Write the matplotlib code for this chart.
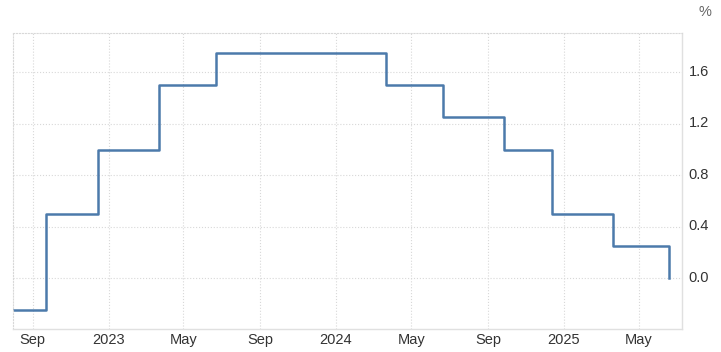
import numpy as np
import pandas as pd
import matplotlib
matplotlib.use("Agg")
import matplotlib.pyplot as plt
from matplotlib.transforms import ScaledTranslation

plt.rcParams["font.family"] = ["Liberation Sans", "DejaVu Sans"]

# policy rate change dates and levels (%)
dates = ["2022-07-31", "2022-09-22", "2022-12-15", "2023-03-23", "2023-06-22",
         "2024-03-21", "2024-06-20", "2024-09-26", "2024-12-12", "2025-03-20",
         "2025-06-19"]
rates = [-0.25, 0.50, 1.00, 1.50, 1.75, 1.50, 1.25, 1.00, 0.50, 0.25, 0.00]

tick_dates = ["2022-09-01", "2023-01-01", "2023-05-01", "2023-09-01", "2024-01-01",
              "2024-05-01", "2024-09-01", "2025-01-01", "2025-05-01"]
tick_labels = ["Sep", "2023", "May", "Sep", "2024", "May", "Sep", "2025", "May"]
y_ticks = [0.0, 0.4, 0.8, 1.2, 1.6]

x = pd.to_datetime(dates)
fig = plt.figure(figsize=(7.21, 3.52), dpi=100)
ax = fig.add_axes([12.7 / 721, 22.7 / 352, 669 / 721, 296.3 / 352])

ax.step(x, rates, where="post", color="#4c7aab", linewidth=1.8)

ax.set_xlim(pd.Timestamp("2022-07-31"), pd.Timestamp("2025-07-09"))
ax.set_ylim(-0.396, 1.905)

ax.set_xticks(pd.to_datetime(tick_dates))
ax.set_xticklabels(tick_labels)
ax.set_yticks(y_ticks)
ax.set_yticklabels([f"{v:.1f}" for v in y_ticks])

ax.yaxis.tick_right()
ax.tick_params(axis="both", length=0, labelsize=10.5, colors="#333333")
ax.tick_params(axis="y", pad=5)
ax.tick_params(axis="x", pad=3)

# nudge y labels up a little, like the original
shift = ScaledTranslation(0, 2 / 100, fig.dpi_scale_trans)
for lbl in ax.get_yticklabels():
    lbl.set_transform(lbl.get_transform() + shift)

ax.grid(True, color="#d8d8d8", linestyle=":", linewidth=0.8)
for side in ["left", "top"]:
    ax.spines[side].set_color("#d8d8d8")
    ax.spines[side].set_linestyle(":")
    ax.spines[side].set_linewidth(0.8)
for side in ["right", "bottom"]:
    ax.spines[side].set_color("#e0e0e0")
    ax.spines[side].set_linewidth(1.0)

fig.text(705 / 721, 1 - 12 / 352, "%", fontsize=10.5, color="#666666",
         ha="center", va="center")

fig.savefig("out.png", dpi=100, facecolor="white")
